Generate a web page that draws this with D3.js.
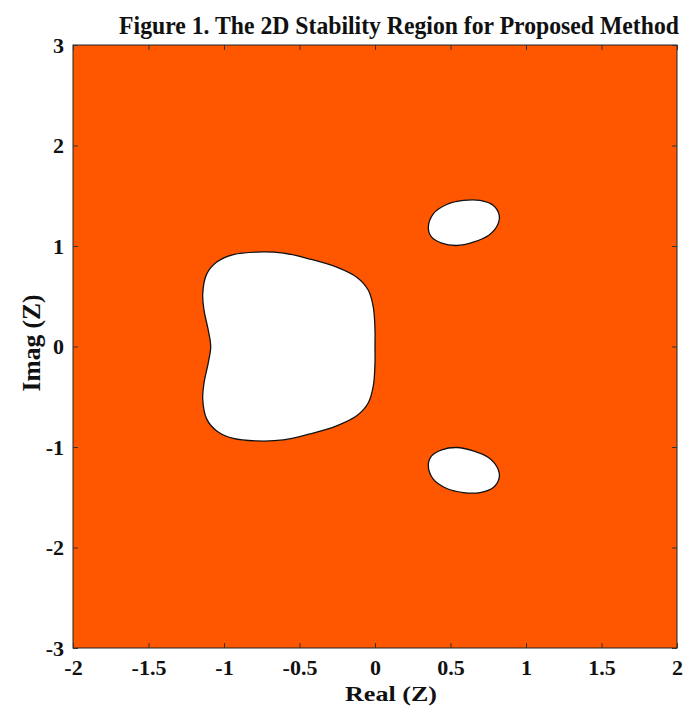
<!DOCTYPE html>
<html><head><meta charset="utf-8">
<script src="https://cdn.jsdelivr.net/npm/d3@7"></script>
<style>body{margin:0;background:#fff}svg{display:block}</style>
</head><body>
<svg id="c" width="688" height="706"></svg>
<script>
const title = "Figure 1. The 2D Stability Region for Proposed Method";
const xLabel = "Real (Z)";
const yLabel = "Imag (Z)";
const xTicks = [-2, -1.5, -1, -0.5, 0, 0.5, 1, 1.5, 2];
const yTicks = [-3, -2, -1, 0, 1, 2, 3];
// Upper half of the large stable hole boundary (Real, Imag), mirrored below
const blobUpper = [
  [-1.088, 0.00], [-1.104, 0.16], [-1.132, 0.36], [-1.141, 0.52], [-1.115, 0.72],
  [-1.048, 0.84], [-0.938, 0.915], [-0.784, 0.94], [-0.607, 0.93], [-0.43, 0.87],
  [-0.254, 0.79], [-0.121, 0.69], [-0.044, 0.56], [-0.011, 0.39], [0.0, 0.16], [0.0, 0.0]
];
// Upper small hole boundary, mirrored for the lower one
const islandUpper = [
  [0.353, 1.181], [0.386, 1.320], [0.475, 1.413], [0.585, 1.453], [0.695, 1.453],
  [0.784, 1.403], [0.823, 1.303], [0.810, 1.204], [0.751, 1.104], [0.651, 1.038],
  [0.541, 1.005], [0.442, 1.028], [0.375, 1.088]
];

const svg = d3.select("#c");
const m = {l: 73, r: 677, t: 45, b: 648};
const x = d3.scaleLinear().domain([-2, 2]).range([m.l, m.r]);
const y = d3.scaleLinear().domain([-3, 3]).range([m.b, m.t]);
const serif = "'Liberation Serif','Times New Roman',serif";
const fmt = d => String(d);

svg.append("rect").attr("x", m.l).attr("y", m.t).attr("width", m.r - m.l).attr("height", m.b - m.t)
  .attr("fill", "#ff5700");

const blobPts = blobUpper.concat(blobUpper.slice(1, -1).reverse().map(d => [d[0], -d[1]]));
const line = d3.line().x(d => x(d[0])).y(d => y(d[1])).curve(d3.curveCatmullRomClosed);
const islandLower = islandUpper.map(d => [d[0], -d[1]]);
[blobPts, islandUpper, islandLower].forEach(p => {
  svg.append("path").attr("d", line(p)).attr("fill", "#fff").attr("stroke", "#111").attr("stroke-width", 1.3);
});

// frame
svg.append("rect").attr("x", m.l).attr("y", m.t).attr("width", m.r - m.l).attr("height", m.b - m.t)
  .attr("fill", "none").attr("stroke", "#222").attr("stroke-width", 1);

const gx = svg.append("g").attr("transform", `translate(0,${m.b})`)
  .call(d3.axisBottom(x).tickValues(xTicks).tickFormat(fmt).tickSizeInner(-5).tickSizeOuter(0));
const gxt = svg.append("g").attr("transform", `translate(0,${m.t})`)
  .call(d3.axisTop(x).tickValues(xTicks).tickFormat("").tickSizeInner(-5).tickSizeOuter(0));
const gy = svg.append("g").attr("transform", `translate(${m.l},0)`)
  .call(d3.axisLeft(y).tickValues(yTicks).tickFormat(fmt).tickSizeInner(-5).tickSizeOuter(0).tickPadding(9));
const gyr = svg.append("g").attr("transform", `translate(${m.r},0)`)
  .call(d3.axisRight(y).tickValues(yTicks).tickFormat("").tickSizeInner(-5).tickSizeOuter(0));
[gx, gxt, gy, gyr].forEach(g => {
  g.select(".domain").remove();
  g.selectAll("line").attr("stroke", "#333");
  g.selectAll("text").attr("font-family", serif).attr("font-weight", "bold").attr("font-size", 22).attr("fill", "#111");
});
gx.selectAll("text").attr("y", 27).attr("dy", 0);
gy.selectAll("text").attr("dy", "0.34em");

// condensed text helper: scale horizontally to a target width
function condensed(parent, tx, ty, rot, size, width, str) {
  const g = parent.append("g");
  const t = g.append("text").attr("text-anchor", "middle")
    .attr("font-family", serif).attr("font-weight", "bold").attr("font-size", size).attr("fill", "#111").text(str);
  const w = t.node().getComputedTextLength();
  g.attr("transform", `translate(${tx},${ty}) rotate(${rot}) scale(${width / w},1)`);
}
condensed(svg, 399, 34, 0, 26, 560, title);
condensed(svg, 391, 701, 0, 22, 92, xLabel);
condensed(svg, 40, 343, -90, 25, 97, yLabel);
</script>
</body></html>
